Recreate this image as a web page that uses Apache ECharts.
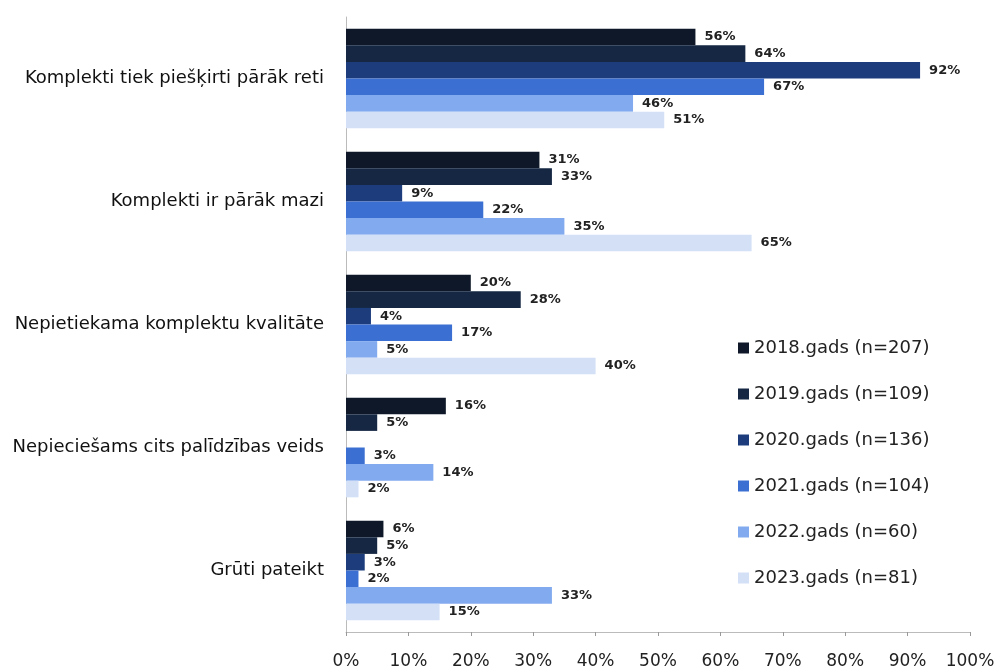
<!DOCTYPE html>
<html>
<head>
<meta charset="utf-8">
<script src="https://cdn.jsdelivr.net/npm/echarts@6/dist/echarts.min.js"></script>
<style>
  html, body { margin: 0; padding: 0; background: #fff; }
  #chart { width: 1000px; height: 671px; }
</style>
</head>
<body>
<div id="chart"></div>
<script>
var categories = [
  'Komplekti tiek piešķirti pārāk reti',
  'Komplekti ir pārāk mazi',
  'Nepietiekama komplektu kvalitāte',
  'Nepieciešams cits palīdzības veids',
  'Grūti pateikt'
]
var seriesNames = [
  '2018.gads (n=207)',
  '2019.gads (n=109)',
  '2020.gads (n=136)',
  '2021.gads (n=104)',
  '2022.gads (n=60)',
  '2023.gads (n=81)'
]
var y2018 = [56, 31, 20, 16, 6]
var y2019 = [64, 33, 28, 5, 5]
var y2020 = [92, 9, 4, null, 3]
var y2021 = [67, 22, 17, 3, 2]
var y2022 = [46, 35, 5, 14, 33]
var y2023 = [51, 65, 40, 2, 15]
var xTicks = [0, 10, 20, 30, 40, 50, 60, 70, 80, 90, 100]

var colors = ['#0f1828', '#152743', '#1d3c7c', '#3b6fd1', '#82aaef', '#d3e0f6']
var values = [y2018, y2019, y2020, y2021, y2022, y2023]

var chart = echarts.init(document.getElementById('chart'))
chart.setOption({
  animation: false,
  grid: { left: 346, right: 30, top: 17, bottom: 39 },
  legend: {
    orient: 'vertical',
    left: 733,
    top: 334,
    itemWidth: 11,
    itemHeight: 11,
    itemGap: 28,
    icon: 'rect',
    textStyle: { fontFamily: 'DejaVu Sans', fontSize: 18, color: '#222' },
    data: seriesNames
  },
  xAxis: {
    type: 'value',
    min: 0,
    max: 100,
    interval: 10,
    axisLine: { show: true, lineStyle: { color: '#bbb' } },
    axisTick: { show: true, length: 4, lineStyle: { color: '#999' } },
    splitLine: { show: false },
    axisLabel: {
      fontFamily: 'DejaVu Sans',
      fontSize: 17,
      color: '#222',
      margin: 21,
      formatter: function (v) { return xTicks.indexOf(v) >= 0 ? v + '%' : '' }
    }
  },
  yAxis: {
    type: 'category',
    inverse: true,
    data: categories,
    axisLine: { show: true, lineStyle: { color: '#bbb' } },
    axisTick: { show: false },
    axisLabel: {
      fontFamily: 'DejaVu Sans',
      fontSize: 18,
      color: '#111',
      margin: 22
    }
  },
  series: seriesNames.map(function (name, i) {
    return {
      name: name,
      type: 'bar',
      data: values[i],
      barGap: '0%',
      barCategoryGap: '19%',
      itemStyle: { color: colors[i] },
      label: {
        show: true,
        position: 'right',
        distance: 9,
        fontFamily: 'DejaVu Sans',
        fontSize: 13,
        fontWeight: 'bold',
        color: '#222',
        formatter: '{c}%'
      }
    }
  })
})
</script>
</body>
</html>
